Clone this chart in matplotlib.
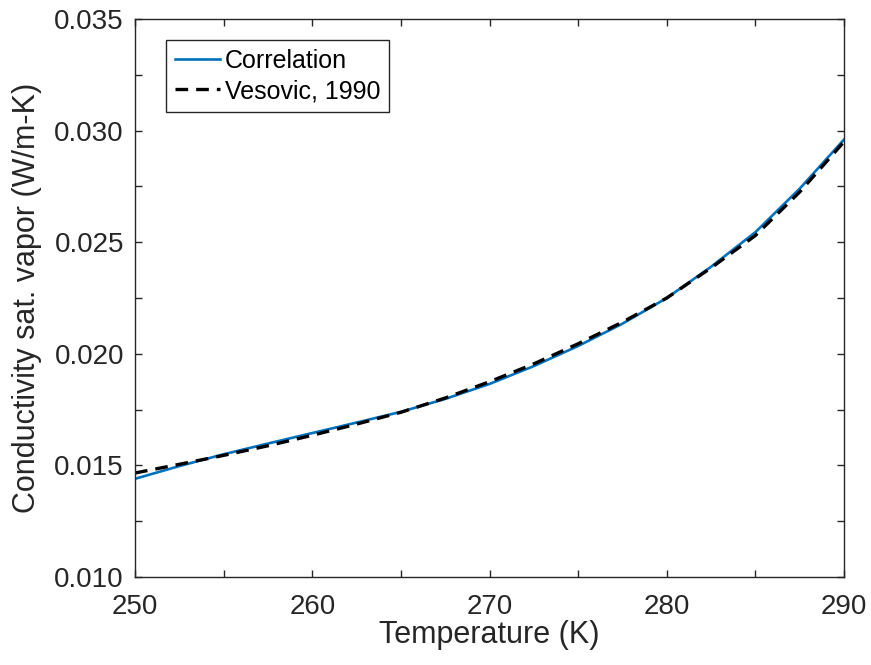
import numpy as np
import matplotlib.pyplot as plt
from matplotlib.ticker import MultipleLocator, FormatStrFormatter

# temperatures (K) and thermal conductivity of saturated vapor (W/m-K)
temp = [250, 252.5, 255, 257.5, 260, 262.5, 265, 267.5, 270, 272.5,
        275, 277.5, 280, 282.5, 285, 287.5, 290]
k_corr = [0.01440, 0.01497, 0.01550, 0.01598, 0.01645, 0.01692, 0.01740, 0.01798, 0.01865, 0.01945,
          0.02035, 0.02135, 0.02250, 0.02390, 0.02545, 0.02740, 0.02960]
k_vesovic = [0.01466, 0.01505, 0.01545, 0.01588, 0.01635, 0.01685, 0.01738, 0.01802, 0.01875, 0.01955,
             0.02045, 0.02142, 0.02250, 0.02385, 0.02530, 0.02725, 0.02950]

plt.rcParams['font.family'] = ['Liberation Sans', 'DejaVu Sans']
axis_color = '#262626'

fig = plt.figure(figsize=(8.71, 6.65), dpi=100)
ax = fig.add_axes([0.155, 0.1323, 0.814, 0.8391])

ax.plot(temp, k_corr, color='#0072BD', linewidth=1.9, label='Correlation')
ax.plot(temp, k_vesovic, color='black', linewidth=2.4, linestyle=(0, (3.8, 2.4)), label='Vesovic, 1990')

ax.set_xlim(250, 290)
ax.set_ylim(0.010, 0.035)
ax.xaxis.set_major_locator(MultipleLocator(10))
ax.xaxis.set_minor_locator(MultipleLocator(5))
ax.yaxis.set_major_locator(MultipleLocator(0.005))
ax.yaxis.set_minor_locator(MultipleLocator(0.0025))
ax.yaxis.set_major_formatter(FormatStrFormatter('%.3f'))

ax.tick_params(which='both', direction='in', top=True, right=True, colors=axis_color,
               width=1, length=5)
ax.tick_params(which='major', labelsize=20)
ax.tick_params(axis='y', which='major', pad=8)
ax.tick_params(axis='x', which='major', pad=12)
for spine in ax.spines.values():
    spine.set_color(axis_color)
    spine.set_linewidth(1)

ax.set_xlabel('Temperature (K)', fontsize=22, color=axis_color, labelpad=0)
ax.set_ylabel('Conductivity sat. vapor (W/m-K)', fontsize=22, color=axis_color, labelpad=9)

leg = ax.legend(loc='upper left', bbox_to_anchor=(0.044, 0.962), borderaxespad=0,
                fontsize=18, fancybox=False, framealpha=1, edgecolor=axis_color,
                handlelength=1.8, handletextpad=0.2, borderpad=0.35, labelspacing=0.25)
leg.get_frame().set_linewidth(1)

fig.savefig('out.png', dpi=100)
plt.close(fig)
